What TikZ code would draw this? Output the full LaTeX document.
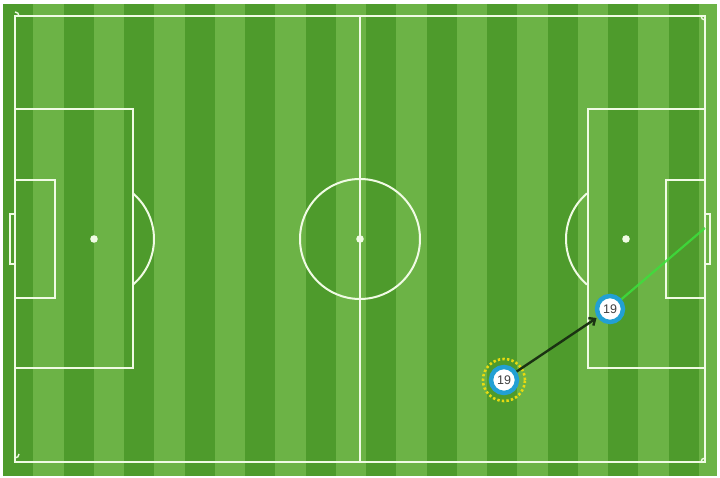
\documentclass[tikz,border=0pt]{standalone}
\usepackage{fontspec}
\setsansfont{Liberation Sans}
\usepackage{tikz}
\usetikzlibrary{arrows.meta, positioning}
\definecolor{grassdark}{HTML}{4E9B2C}
\definecolor{grasslight}{HTML}{6CB346}
\definecolor{chalk}{HTML}{F0FBE4}
\definecolor{ringblue}{HTML}{22A0D4}
\definecolor{passdark}{HTML}{1A3212}
\definecolor{shotgreen}{HTML}{3CE03C}
\definecolor{haloyellow}{HTML}{E8DA10}

\begin{document}
\begin{tikzpicture}[x=1pt, y=1pt,
		chalkline/.style={draw=chalk, line width=2pt},
		player/.style={circle, fill=white, draw=ringblue, line width=4.5pt, minimum size=26pt, inner sep=0pt, font=\sffamily\fontsize{12.5}{14}\selectfont, text=black!75},
		halo/.style={circle, draw=haloyellow, line width=2.6pt, dash pattern=on 2.4pt off 2.2pt, minimum size=42pt, inner sep=0pt}]
				% Background and grass
				\useasboundingbox (0,0) rectangle (720,478);
				\fill[white] (0,0) rectangle (720,478);
				\fill[grasslight] (3,2) rectangle (717,474);
				\foreach \i in {0,2,...,22}
					\fill[grassdark] ({3+30.25*\i},2) rectangle ({min(717,3+30.25*(\i+1))},474);
				
				% Pitch lines
				\draw[chalkline] (15,16) rectangle (705,462);
				\draw[chalkline] (360,16) -- (360,462);
				\draw[chalkline] (360,239) circle[radius=60];
				\fill[chalk] (360,239) circle[radius=3.8];
				
				% Left end
				\draw[chalkline] (15,109.5) rectangle (133,368.5);
				\draw[chalkline] (15,180) rectangle (55,298);
				\draw[chalkline] (15,214) -- (10,214) -- (10,264) -- (15,264);
				\fill[chalk] (94,239) circle[radius=3.8];
				\draw[chalkline] (94,239) ++(-49.5:60) arc[start angle=-49.5, end angle=49.5, radius=60];
				
				% Right end
				\draw[chalkline] (588,109.5) rectangle (705,368.5);
				\draw[chalkline] (666,180) rectangle (705,298);
				\draw[chalkline] (705,214) -- (710,214) -- (710,264) -- (705,264);
				\fill[chalk] (626,239) circle[radius=3.8];
				\draw[chalkline] (626,239) ++(130.5:60) arc[start angle=130.5, end angle=229.5, radius=60];
				
				% Corner arcs
				\draw[chalk, line width=1.4pt] (15,20) arc[start angle=270, end angle=360, radius=4];
				\draw[chalk, line width=1.4pt] (19,462) arc[start angle=0, end angle=90, radius=4];
				\draw[chalk, line width=1.4pt] (701,462) arc[start angle=180, end angle=270, radius=4];
				\draw[chalk, line width=1.4pt] (705,20) arc[start angle=90, end angle=180, radius=4];
				
				% Players, pass and shot
				\node[halo] (start) at (504,98) {};
				\node[player] (p1) at (start) {19};
				\node[player] (p2) at (610,169) {19};
				\coordinate (goalmouth) at (705,250);
				\draw[shotgreen, opacity=0.85, line width=2.2pt] (p2) -- (goalmouth);
				\draw[-{Straight Barb[length=5pt, width=9pt]}, passdark, line width=2.4pt, shorten >=1pt] (p1) -- (p2);
			\end{tikzpicture}
\end{document}
